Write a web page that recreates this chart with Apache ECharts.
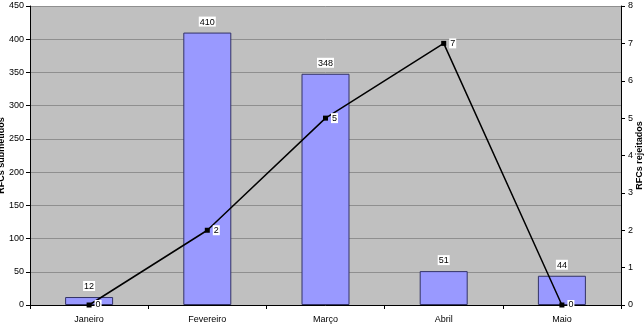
<!DOCTYPE html>
<html><head><meta charset="utf-8">
<script src="https://cdn.jsdelivr.net/npm/echarts@6/dist/echarts.min.js"></script>
<style>html,body{margin:0;padding:0;background:#fff}#c{width:644px;height:331px}</style>
</head><body><div id="c"></div>
<script>
const categories = ['Janeiro','Fevereiro','Março','Abril','Maio'];
const submetidos = [12, 410, 348, 51, 44];
const rejeitados = [0, 2, 5, 7, 0];
const leftTicks = {min:0, max:450, interval:50};
const rightTicks = {min:0, max:8, interval:1};

const chart = echarts.init(document.getElementById('c'));
const font = 'Liberation Sans, Arial, sans-serif';
chart.setOption({
  animation:false,
  backgroundColor:'#fff',
  grid:{left:30, right:23, top:6, bottom:26, show:true, backgroundColor:'#C0C0C0', borderWidth:0,
        containLabel:false, outerBoundsMode:'none'},
  xAxis:{type:'category', data:categories,
    axisLine:{lineStyle:{color:'#000'}},
    axisTick:{show:true, lineStyle:{color:'#000'}, length:4},
    axisLabel:{color:'#000', fontFamily:font, fontSize:9, margin:10}},
  yAxis:[
    {type:'value', min:leftTicks.min, max:leftTicks.max, interval:leftTicks.interval,
     name:'RFCs submetidos', nameLocation:'middle', nameGap:24, nameRotate:90, nameMoveOverlap:false,
     nameTextStyle:{fontFamily:font, fontSize:9, fontWeight:'bold', color:'#000'},
     axisLine:{show:true, lineStyle:{color:'#000'}},
     axisTick:{show:true, length:4, lineStyle:{color:'#000'}},
     axisLabel:{color:'#000', fontFamily:font, fontSize:9, margin:6},
     splitLine:{show:true, lineStyle:{color:'#8f8f8f', width:1}}},
    {type:'value', min:rightTicks.min, max:rightTicks.max, interval:rightTicks.interval,
     name:'RFCs rejeitados', nameLocation:'middle', nameGap:14, nameRotate:90, nameMoveOverlap:false,
     nameTextStyle:{fontFamily:font, fontSize:9, fontWeight:'bold', color:'#000'},
     axisLine:{show:true, lineStyle:{color:'#000'}},
     axisTick:{show:true, length:4, lineStyle:{color:'#000'}},
     axisLabel:{color:'#000', fontFamily:font, fontSize:9, margin:7},
     splitLine:{show:false}}
  ],
  series:[
    {type:'bar', data:submetidos, barWidth:48, yAxisIndex:0,
     itemStyle:{color:'#9999FF', borderColor:'#333366', borderWidth:1},
     label:{show:true, position:'top', distance:6, color:'#000', fontFamily:font, fontSize:9,
       backgroundColor:'#fff', padding:[1,1,0,1]}},
    {type:'line', data:rejeitados, yAxisIndex:1,
     symbol:'rect', symbolSize:5, itemStyle:{color:'#000'},
     lineStyle:{color:'#000', width:1.5},
     label:{show:true, position:'right', distance:3, color:'#000', fontFamily:font, fontSize:9,
       backgroundColor:'#fff', padding:[1,1,0,1]}}
  ]
});
</script></body></html>
